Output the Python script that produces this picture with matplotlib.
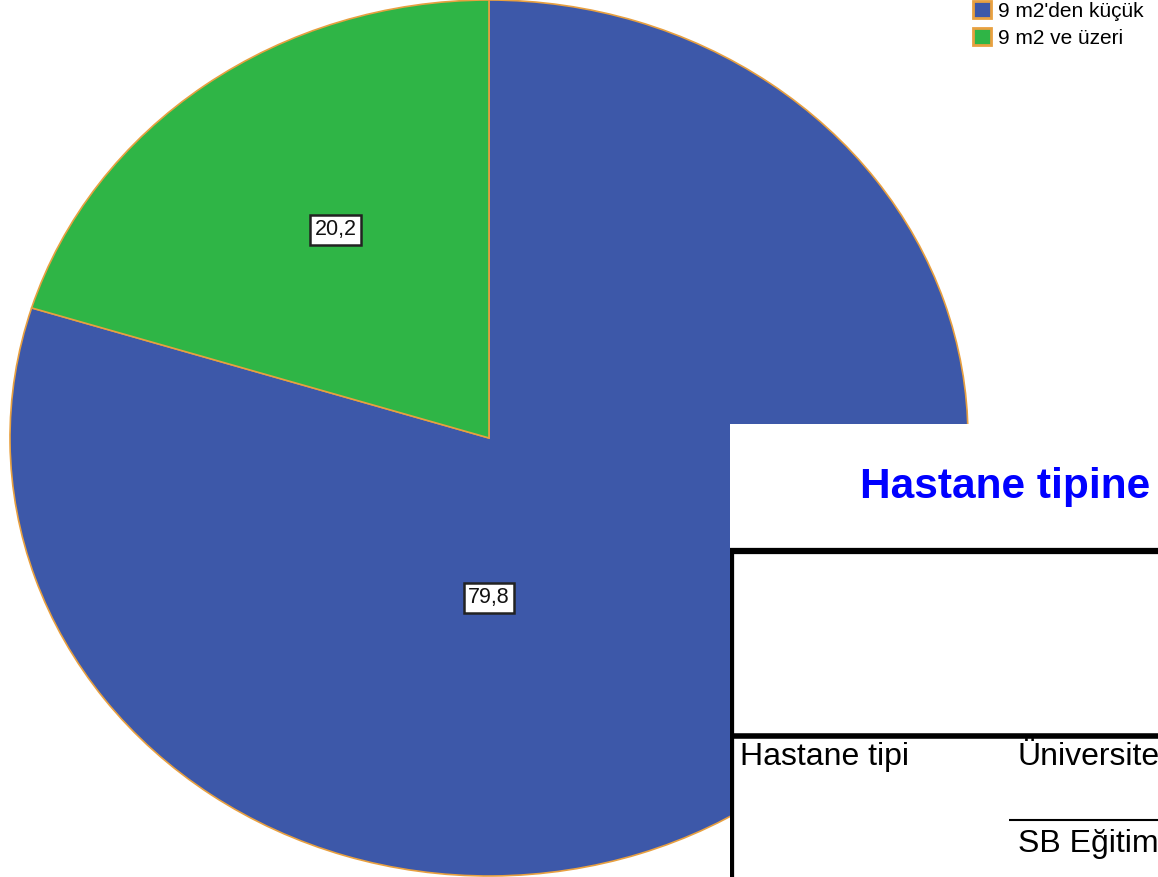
import matplotlib.pyplot as plt

plt.rcParams["font.family"] = ["Liberation Sans", "DejaVu Sans"]

# pie data
kategoriler = ["9 m2'den küçük", "9 m2 ve üzeri"]
yuzdeler = [79.8, 20.2]
renkler = ["#3d58a9", "#2fb546"]
etiketler = ["79,8", "20,2"]
# label anchor points in pie coordinates
etiket_yer = [(0.0, -0.365), (-0.32, 0.475)]

# table fragment text
tablo_baslik = "Hastane tipine"
satir_baslik = "Hastane tipi"
satir_degerleri = ["Üniversite", "SB Eğitim"]

W, H = 1158, 877
fig = plt.figure(figsize=(W / 100, H / 100), dpi=100)

# the pie is stretched into an ellipse (wider than tall)
ax = fig.add_axes([10 / W, 1 / H, 958 / W, 876 / H])
wedges, _ = ax.pie(
    yuzdeler,
    colors=renkler,
    startangle=90,
    counterclock=False,
    radius=1.0,
    wedgeprops=dict(edgecolor="#e8a040", linewidth=1.2),
)
ax.set_aspect("auto")
ax.set_xlim(-1, 1)
ax.set_ylim(-1, 1)

for (x, y), txt in zip(etiket_yer, etiketler):
    ax.text(
        x, y, txt, ha="center", va="center", fontsize=15.5, color="#111111",
        bbox=dict(boxstyle="square,pad=0.2", fc="white", ec="#222222", lw=1.8),
    )

leg = fig.legend(
    wedges, kategoriler,
    loc="upper left", bbox_to_anchor=(973 / W, 1 - 1 / H),
    frameon=False, fontsize=15,
    handlelength=0.85, handleheight=0.85, handletextpad=0.35,
    labelspacing=0.36, borderpad=0, borderaxespad=0,
)
for h in leg.legend_handles:
    h.set_linewidth(2)

# white table panel laid over the lower right of the pie, in pixel coords
tx = fig.add_axes([730 / W, 0, (W - 730) / W, (H - 424) / H])
tx.set_xlim(730, W)
tx.set_ylim(H, 424)
tx.set_facecolor("white")
tx.set_zorder(5)
for s in tx.spines.values():
    s.set_visible(False)
tx.set_xticks([])
tx.set_yticks([])

tx.text(860, 487, tablo_baslik, color="#0000ff", fontsize=30.5,
        fontweight="bold", ha="left", va="center")
tx.plot([730, W], [551, 551], color="black", lw=4.5, solid_capstyle="butt")
tx.plot([730, W], [735.5, 735.5], color="black", lw=4, solid_capstyle="butt")
tx.plot([731, 731], [549, H], color="black", lw=4.5, solid_capstyle="butt")
tx.plot([1009, W], [820, 820], color="black", lw=1.5, solid_capstyle="butt")

tx.text(740, 757, satir_baslik, fontsize=23, ha="left", va="center")
tx.text(1018, 757, satir_degerleri[0], fontsize=23, ha="left", va="center")
tx.text(1018, 844, satir_degerleri[1], fontsize=23, ha="left", va="center")

fig.savefig("out.png", dpi=100)
